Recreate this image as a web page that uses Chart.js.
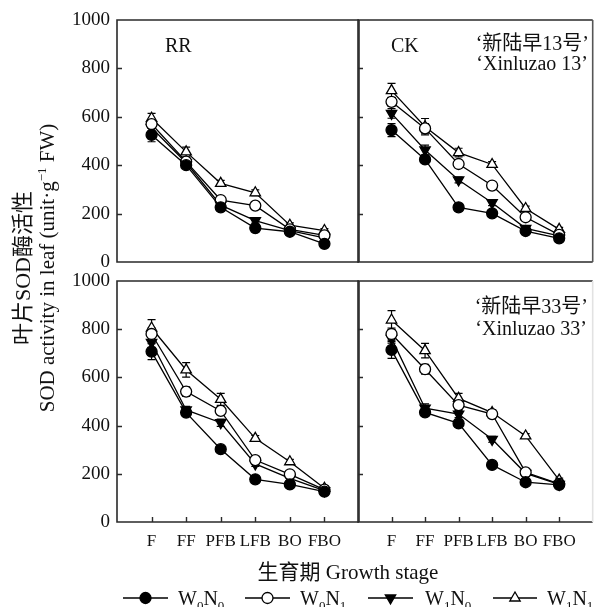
<!DOCTYPE html>
<html>
<head>
<meta charset="utf-8">
<script src="https://cdn.jsdelivr.net/npm/chart.js@4.4.1/dist/chart.umd.min.js"></script>
<style>
  html, body { margin: 0; padding: 0; background: #fff; }
  #wrap {
    position: relative; width: 600px; height: 607px; overflow: hidden;
    font-family: 'Liberation Serif', 'Noto Sans CJK SC', serif; color: #111;
  }
  #wrap canvas { position: absolute; left: 0; top: 0; }
  .ytitle {
    position: absolute; left: -131px; top: 246px; width: 330px; height: 44px;
    line-height: 22px; text-align: center; white-space: nowrap;
    transform: rotate(-90deg);
  }
  .ytitle .zh { font-size: 22px; }
  .ytitle .en { font-size: 21px; }
  .ytitle sup { font-size: 13px; line-height: 0; }
  .xtitle {
    position: absolute; left: 198px; width: 300px; top: 555px;
    text-align: center; font-size: 21px; white-space: nowrap;
  }
</style>
</head>
<body>
<div id="wrap">
  <canvas id="rr13" width="600" height="607"></canvas>
  <canvas id="ck13" width="600" height="607"></canvas>
  <canvas id="rr33" width="600" height="607"></canvas>
  <canvas id="ck33" width="600" height="607"></canvas>
  <div class="ytitle"><span class="zh">叶片SOD酶活性</span><br><span class="en">SOD activity in leaf (unit·g<sup>−1</sup> FW)</span></div>
  <div class="xtitle">生育期 Growth stage</div>
</div>
<script>
const stages = ['F', 'FF', 'PFB', 'LFB', 'BO', 'FBO']
const stageX = [1, 2, 3, 4, 5, 6]
const yTicks = [0, 200, 400, 600, 800, 1000]
const seriesNames = ['W0N0', 'W0N1', 'W1N0', 'W1N1']

// Xinluzao 13, RR
const rr13W0N0 = [525, 400, 226, 140, 125, 75]
const rr13W0N1 = [570, 415, 256, 233, 135, 110]
const rr13W1N0 = [555, 410, 235, 171, 130, 100]
const rr13W1N1 = [594, 455, 325, 286, 152, 130]
const rr13Err = [
  [28, 12, 10, 10, 8, 8],
  [15, 12, 10, 12, 8, 8],
  [15, 12, 10, 10, 8, 8],
  [20, 20, 12, 12, 10, 8]
]

// Xinluzao 13, CK
const ck13W0N0 = [545, 424, 226, 201, 128, 98]
const ck13W0N1 = [662, 552, 405, 316, 185, 112]
const ck13W1N0 = [614, 463, 339, 245, 139, 108]
const ck13W1N1 = [708, 559, 452, 403, 221, 135]
const ck13Err = [
  [27, 15, 10, 10, 8, 8],
  [18, 20, 12, 12, 10, 8],
  [20, 20, 12, 12, 8, 8],
  [30, 34, 18, 12, 10, 8]
]

// Xinluzao 33, RR
const rr33W0N0 = [707, 454, 302, 177, 156, 126]
const rr33W0N1 = [780, 541, 461, 257, 198, 134]
const rr33W1N0 = [745, 465, 412, 241, 181, 130]
const rr33W1N1 = [805, 631, 509, 347, 250, 140]
const rr33Err = [
  [33, 15, 10, 10, 8, 8],
  [25, 20, 12, 10, 8, 8],
  [20, 15, 15, 10, 8, 8],
  [35, 30, 25, 12, 10, 8]
]

// Xinluzao 33, CK
const ck33W0N0 = [714, 455, 409, 237, 165, 154]
const ck33W0N1 = [780, 634, 485, 448, 206, 158]
const ck33W1N0 = [762, 472, 448, 343, 202, 156]
const ck33W1N1 = [838, 711, 513, 454, 357, 174]
const ck33Err = [
  [35, 15, 12, 10, 8, 8],
  [25, 20, 15, 12, 10, 8],
  [20, 18, 15, 12, 10, 8],
  [39, 30, 21, 12, 10, 8]
]

const SERIF = '"Liberation Serif", "Noto Sans CJK SC", serif'
const INK = '#111'

// filled circle, open circle, filled down-triangle, open triangle
const markers = [
  { style: 'circle', fill: '#000', rotation: 0, radius: 5.5 },
  { style: 'circle', fill: '#fff', rotation: 0, radius: 5.5 },
  { style: 'triangle', fill: '#000', rotation: 180, radius: 6 },
  { style: 'triangle', fill: '#fff', rotation: 0, radius: 6 }
]

function drawMarker(ctx, m, x, y) {
  ctx.save()
  ctx.fillStyle = m.fill
  ctx.strokeStyle = '#000'
  ctx.lineWidth = 1.3
  ctx.beginPath()
  if (m.style === 'circle') {
    ctx.arc(x, y, m.radius, 0, Math.PI * 2)
  } else {
    let rad = m.rotation * Math.PI / 180
    for (let k = 0; k < 3; k++) {
      const px = x + Math.sin(rad) * m.radius
      const py = y - Math.cos(rad) * m.radius
      k === 0 ? ctx.moveTo(px, py) : ctx.lineTo(px, py)
      rad += 2 * Math.PI / 3
    }
    ctx.closePath()
  }
  ctx.fill()
  ctx.stroke()
  ctx.restore()
}

function drawSubLabel(ctx, name, x, y) {
  // name like W0N1 -> W₀N₁ with real subscripts
  ctx.save()
  ctx.fillStyle = INK
  ctx.textBaseline = 'alphabetic'
  ctx.textAlign = 'left'
  for (const ch of name) {
    const sub = /\d/.test(ch)
    ctx.font = (sub ? '13px ' : '20px ') + SERIF
    ctx.fillText(ch, x, sub ? y + 5 : y)
    x += ctx.measureText(ch).width
  }
  ctx.restore()
}

const panelDecor = {
  id: 'panelDecor',
  beforeDatasetsDraw(chart) {
    const { ctx } = chart
    const xs = chart.scales.x
    const ys = chart.scales.y
    ctx.save()
    ctx.strokeStyle = '#000'
    ctx.lineWidth = 1.2
    chart.data.datasets.forEach(ds => {
      ds.data.forEach((p, i) => {
        const e = ds.errors[i]
        const px = xs.getPixelForValue(p.x)
        const top = ys.getPixelForValue(p.y + e)
        const bot = ys.getPixelForValue(p.y - e)
        ctx.beginPath()
        ctx.moveTo(px, top); ctx.lineTo(px, bot)
        ctx.moveTo(px - 4, top); ctx.lineTo(px + 4, top)
        ctx.moveTo(px - 4, bot); ctx.lineTo(px + 4, bot)
        ctx.stroke()
      })
    })
    ctx.restore()
  },
  afterDatasetsDraw(chart, args, opts) {
    const { ctx, chartArea: a } = chart
    const xs = chart.scales.x
    const ys = chart.scales.y
    ctx.save()
    ctx.lineWidth = 1.6
    ctx.strokeStyle = '#2a2a2a'
    ctx.beginPath()
    ctx.moveTo(a.right, a.top)
    ctx.lineTo(a.left, a.top)
    ctx.lineTo(a.left, a.bottom)
    ctx.lineTo(a.right, a.bottom)
    ctx.stroke()
    ctx.strokeStyle = opts.rightColor
    ctx.beginPath()
    ctx.moveTo(a.right, a.top)
    ctx.lineTo(a.right, a.bottom)
    ctx.stroke()

    // inward tick marks
    ctx.strokeStyle = '#2a2a2a'
    ctx.lineWidth = 1.4
    ctx.beginPath()
    yTicks.slice(1, -1).forEach(v => {
      const py = Math.round(ys.getPixelForValue(v)) + 0.5
      ctx.moveTo(a.left, py)
      ctx.lineTo(a.left + 5, py)
    })
    if (opts.xTicks) {
      stageX.forEach(v => {
        const px = Math.round(xs.getPixelForValue(v)) + 0.5
        ctx.moveTo(px, a.bottom)
        ctx.lineTo(px, a.bottom - 5)
      })
    }
    ctx.stroke()

    ctx.fillStyle = INK
    ctx.font = '20px ' + SERIF
    ctx.textBaseline = 'alphabetic'
    opts.labels.forEach(l => {
      ctx.textAlign = l.align
      ctx.fillText(l.text, l.x, l.y)
    })

    if (opts.legend) {
      const y = 598
      const items = [
        { x0: 123, x1: 168, tx: 178 },
        { x0: 245, x1: 290, tx: 300 },
        { x0: 368, x1: 413, tx: 425 },
        { x0: 493, x1: 537, tx: 547 }
      ]
      items.forEach((it, i) => {
        ctx.strokeStyle = '#000'
        ctx.lineWidth = 1.3
        ctx.beginPath()
        ctx.moveTo(it.x0, y)
        ctx.lineTo(it.x1, y)
        ctx.stroke()
        drawMarker(ctx, markers[i], (it.x0 + it.x1) / 2, y)
        drawSubLabel(ctx, seriesNames[i], it.tx, 605)
      })
    }
    ctx.restore()
  }
}

function makeDatasets(seriesList, errList) {
  return seriesList.map((vals, i) => ({
    label: seriesNames[i],
    data: vals.map((v, k) => ({ x: stageX[k], y: v })),
    errors: errList[i],
    borderColor: '#000',
    borderWidth: 1.3,
    tension: 0,
    pointStyle: markers[i].style,
    pointRotation: markers[i].rotation,
    pointRadius: markers[i].radius,
    pointBackgroundColor: markers[i].fill,
    pointBorderColor: '#000',
    pointBorderWidth: 1.3
  }))
}

function makePanel(id, seriesList, errList, cfg) {
  const left = cfg.col === 0
  const bottom = cfg.row === 1
  return new Chart(document.getElementById(id), {
    type: 'line',
    data: { datasets: makeDatasets(seriesList, errList) },
    options: {
      responsive: false,
      animation: false,
      events: [],
      layout: {
        padding: {
          left: left ? 0 : 358,
          right: left ? 241 : 2,
          top: bottom ? 281 : 20,
          bottom: bottom ? 55 : 345
        }
      },
      scales: {
        x: {
          type: 'linear',
          display: bottom,
          min: 0,
          max: 7,
          afterBuildTicks: s => { s.ticks = stageX.map(v => ({ value: v })) },
          afterFit: s => { s.height = bottom ? 30 : 0 },
          ticks: {
            autoSkip: false,
            maxRotation: 0,
            padding: 9,
            color: INK,
            font: { family: SERIF, size: 17 },
            callback: v => stages[stageX.indexOf(v)]
          },
          grid: { display: false, drawTicks: false },
          border: { display: false }
        },
        y: {
          display: left,
          min: 0,
          max: 1000,
          afterBuildTicks: s => { s.ticks = yTicks.map(v => ({ value: v })) },
          afterFit: s => { s.width = left ? 117 : 0 },
          ticks: {
            padding: 7,
            color: INK,
            font: { family: SERIF, size: 19 },
            callback: v => String(v)
          },
          grid: { display: false, drawTicks: false },
          border: { display: false }
        }
      },
      plugins: {
        legend: { display: false },
        tooltip: { enabled: false },
        panelDecor: {
          xTicks: bottom,
          rightColor: cfg.rightColor,
          labels: cfg.labels,
          legend: !!cfg.legend
        }
      }
    },
    plugins: [panelDecor]
  })
}

makePanel('rr13', [rr13W0N0, rr13W0N1, rr13W1N0, rr13W1N1], rr13Err, {
  col: 0, row: 0, rightColor: '#2a2a2a',
  labels: [{ text: 'RR', x: 165, y: 52, align: 'left' }]
})
makePanel('ck13', [ck13W0N0, ck13W0N1, ck13W1N0, ck13W1N1], ck13Err, {
  col: 1, row: 0, rightColor: '#555',
  labels: [
    { text: 'CK', x: 391, y: 52, align: 'left' },
    { text: '‘新陆早13号’', x: 589, y: 50, align: 'right' },
    { text: '‘Xinluzao 13’', x: 588, y: 70, align: 'right' }
  ]
})
makePanel('rr33', [rr33W0N0, rr33W0N1, rr33W1N0, rr33W1N1], rr33Err, {
  col: 0, row: 1, rightColor: '#2a2a2a', legend: true,
  labels: []
})
makePanel('ck33', [ck33W0N0, ck33W0N1, ck33W1N0, ck33W1N1], ck33Err, {
  col: 1, row: 1, rightColor: '#e2e2e2',
  labels: [
    { text: '‘新陆早33号’', x: 588, y: 313, align: 'right' },
    { text: '‘Xinluzao 33’', x: 587, y: 335, align: 'right' }
  ]
})
</script>
</body>
</html>
